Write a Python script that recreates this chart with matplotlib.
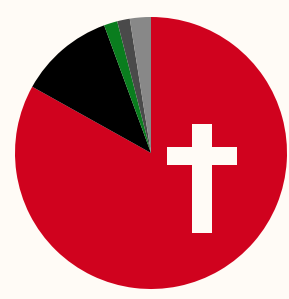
import matplotlib
matplotlib.use('Agg')
from matplotlib import pyplot as plt
from matplotlib.patches import Rectangle

# shares, clockwise from 12 o'clock
groups = ['Christian', 'No religion', 'Muslim', 'Other', 'Not stated']
shares = [83.1, 11.3, 1.6, 1.5, 2.5]
colours = ['#D0021E', '#000000', '#0A7D1E', '#4A4A4A', '#888888']

bg = '#FFFBF6'

fig = plt.figure(figsize=(2.89, 2.99), dpi=100, facecolor=bg)
ax = fig.add_axes([15 / 289, 10 / 299, 272 / 289, 272 / 299])
ax.set_facecolor(bg)

ax.pie(shares, colors=colours, startangle=90, counterclock=False,
       radius=1, wedgeprops={'linewidth': 0})

# cross on the big slice
ax.add_patch(Rectangle((0.30, -0.588), 0.146, 0.80, color=bg, lw=0))
ax.add_patch(Rectangle((0.118, -0.088), 0.514, 0.132, color=bg, lw=0))

ax.set_xlim(-1, 1)
ax.set_ylim(-1, 1)
ax.axis('off')

fig.savefig('out.png', dpi=100, facecolor=bg)
